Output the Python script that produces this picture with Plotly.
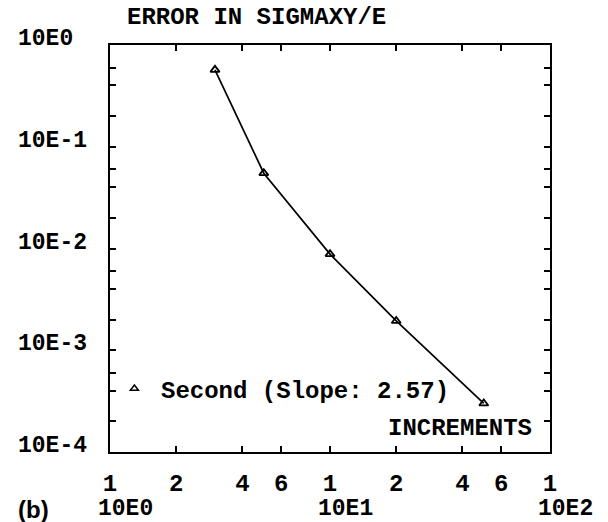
import plotly.graph_objects as go
import math

# Data
increments = [3, 5, 10, 20, 50]
error = [0.57, 0.055, 0.0088, 0.00194, 0.0003]
series_name = "Second (Slope: 2.57)"
title_text = "ERROR IN SIGMAXY/E"
x_label = "INCREMENTS"

x_tickvals = [1, 2, 4, 6, 10, 20, 40, 60, 100]
x_ticktext = ["1", "2", "4", "6", "1", "2", "4", "6", "1"]
x_decades = [1, 10, 100]
x_decade_labels = ["10E0", "10E1", "10E2"]

y_decades = [1, 0.1, 0.01, 0.001, 0.0001]
y_decade_labels = ["10E0", "10E-1", "10E-2", "10E-3", "10E-4"]
y_minor_mult = [1, 2, 4, 6]

FONT = "Liberation Mono, Courier New, monospace"
FS = 24
FSY = 23

y_tickvals = [d * m for d in y_decades for m in y_minor_mult if d * m <= 1]

fig = go.Figure()
fig.add_trace(go.Scatter(
    x=increments, y=error, mode="lines+markers",
    line=dict(color="black", width=1.7),
    marker=dict(symbol="triangle-up-open", size=8, color="black",
                line=dict(width=1.8, color="black")),
    showlegend=False,
))
fig.add_trace(go.Scatter(
    x=[None], y=[None], mode="markers",
    name="<span style='font-size:11px'> </span><b>" + series_name + "</b>",
    marker=dict(symbol="triangle-up-open", size=7, color="black",
                line=dict(width=1.5, color="black")),
    showlegend=True,
))

W, H = 608, 522
L, R, T, B = 110, 58, 45, 70

fig.update_layout(
    width=W, height=H,
    margin=dict(l=L, r=R, t=T, b=B),
    paper_bgcolor="white", plot_bgcolor="white",
    font=dict(family=FONT, size=FS, color="black"),
    showlegend=True,
    legend=dict(x=0.01, y=0.155, xanchor="left", yanchor="middle",
                bgcolor="rgba(0,0,0,0)", font=dict(family=FONT, size=FS, color="black"),
                itemwidth=30, borderwidth=0),
    xaxis=dict(
        type="log", range=[0, 2],
        tickvals=x_tickvals, ticktext=["<b>%s</b>" % t for t in x_ticktext],
        ticks="inside", ticklen=6, tickwidth=1.5, tickcolor="black",
        showline=True, linecolor="black", linewidth=2, mirror="ticks",
        showgrid=False, zeroline=False,
        tickfont=dict(family=FONT, size=FS, color="black"),
        ticklabelstandoff=8,
    ),
    yaxis=dict(
        type="log", range=[-4, 0],
        tickvals=y_tickvals,
        ticks="inside", ticklen=6, tickwidth=1.5, tickcolor="black",
        showline=True, linecolor="black", linewidth=2, mirror="ticks",
        showgrid=False, zeroline=False, showticklabels=False,
    ),
)

annotations = []
annotations.append(dict(text="<b>%s</b>" % title_text, xref="paper", yref="paper",
                        x=(125 - L) / (W - L - R), y=1, yanchor="bottom", xanchor="left",
                        yshift=12, showarrow=False,
                        font=dict(family=FONT, size=FS, color="black")))
for d, lab in zip(y_decades, y_decade_labels):
    annotations.append(dict(text="<b>%s</b>" % lab, xref="paper", yref="y", x=-(L - 16) / (W - L - R),
                            y=math.log10(d), xanchor="left", yanchor="middle", yshift=6,
                            showarrow=False, font=dict(family=FONT, size=FSY, color="black")))
for d, lab in zip(x_decades, x_decade_labels):
    annotations.append(dict(text="<b>%s</b>" % lab, xref="x", yref="paper", x=math.log10(d), y=0,
                            xanchor="left", yanchor="middle", xshift=-14, yshift=-57,
                            showarrow=False, font=dict(family=FONT, size=FSY, color="black")))
annotations.append(dict(text="<b>%s</b>" % x_label, xref="paper", yref="paper", x=1, y=0,
                        xanchor="right", yanchor="middle", xshift=-16, yshift=24,
                        showarrow=False, font=dict(family=FONT, size=FS, color="black")))
annotations.append(dict(text="<b>(b)</b>", xref="paper", yref="paper",
                        x=-(L - 16) / (W - L - R), y=0, xanchor="left", yanchor="middle",
                        yshift=-57, showarrow=False,
                        font=dict(family="Liberation Sans, Arial", size=24, color="black")))
fig.update_layout(annotations=annotations)

fig.write_html("out.html")
